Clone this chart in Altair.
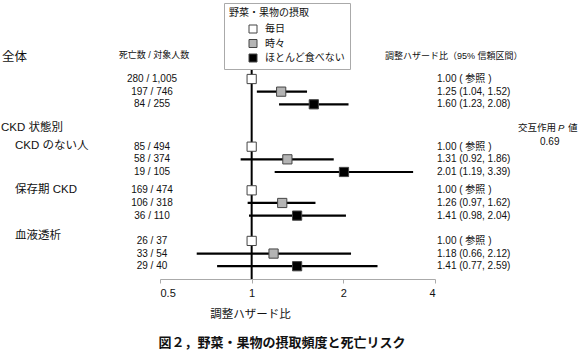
import altair as alt
import pandas as pd

# ---------------- data ----------------
groups = ["全体", "CKD のない人", "保存期 CKD", "血液透析"]
categories = ["毎日", "時々", "ほとんど食べない"]
deaths = [[280, 197, 84], [85, 58, 19], [169, 106, 36], [26, 33, 29]]
subjects = [[1005, 746, 255], [494, 374, 105], [474, 318, 110], [37, 54, 40]]
hazard = [[1.00, 1.25, 1.60], [1.00, 1.31, 2.01], [1.00, 1.26, 1.41], [1.00, 1.18, 1.41]]
ci_low = [[1.00, 1.04, 1.23], [1.00, 0.92, 1.19], [1.00, 0.97, 0.98], [1.00, 0.66, 0.77]]
ci_high = [[1.00, 1.52, 2.08], [1.00, 1.86, 3.39], [1.00, 1.62, 2.04], [1.00, 2.12, 2.59]]
p_interaction = "0.69"
tick_values = [0.5, 1, 2, 4]

# table layout (row units of the forest table)
GROUP_ROW_START = [0, 5.35, 8.8, 12.8]

FONT = "Liberation Sans, Arial, Noto Sans CJK JP, sans-serif"

rows = []
for gi, g in enumerate(groups):
    for j, c in enumerate(categories):
        h, lo, hi = hazard[gi][j], ci_low[gi][j], ci_high[gi][j]
        rows.append({
            "group": g,
            "cat": c,
            "row": GROUP_ROW_START[gi] + j,
            "count": f"{deaths[gi][j]} / {subjects[gi][j]:,}",
            "hr": h,
            "lo": lo,
            "hi": hi,
            "hrtext": "1.00 ( 参照 )" if j == 0 else f"{h:.2f} ({lo:.2f}, {hi:.2f})",
        })
df = pd.DataFrame(rows)
ci_df = df[df["lo"] != df["hi"]]

xscale = alt.Scale(type="log", domain=[0.5, 4], range=[160, 435], nice=False)
yscale = alt.Scale(domain=[0, 1], range=[79, 91.65], nice=False, zero=False)

X = alt.X("hr:Q", scale=xscale,
          axis=alt.Axis(values=tick_values, labelExpr="datum.value == 0.5 ? '0.5' : format(datum.value, 'd')",
                        grid=False, domainColor="#aaaaaa", tickColor="#aaaaaa", tickSize=4,
                        labelFontSize=11, labelPadding=4, labelColor="#111111", labelFont=FONT,
                        title="調整ハザード比", titleFont=FONT, titleFontSize=11.5, titleFontWeight="normal",
                        titleColor="#111111", titleX=250, titleY=35, titleBaseline="middle",
                        titleAnchor="middle", titleAlign="center"))
Y = alt.Y("row:Q", scale=yscale, axis=None)

base = alt.Chart(df)

ref_rule = alt.Chart(pd.DataFrame({"v": [1]})).mark_rule(color="black", strokeWidth=2).encode(
    x=alt.X("v:Q", scale=xscale), y=alt.value(67), y2=alt.value(279))

ci = alt.Chart(ci_df).mark_rule(color="black", strokeWidth=2.2).encode(
    x=alt.X("lo:Q", scale=xscale), x2="hi:Q", y=Y)

points = base.mark_square(size=85, stroke="#444444", strokeWidth=1, opacity=1).encode(
    x=X, y=Y,
    fill=alt.Fill("cat:N", scale=alt.Scale(domain=categories, range=["white", "#b4b4b4", "black"]),
                  legend=alt.Legend(title="野菜・果物の摂取", orient="none", legendX=224, legendY=3,
                                    padding=5, strokeColor="#aaaaaa", fillColor="white",
                                    titleFont=FONT, titleFontSize=10, titleFontWeight="normal",
                                    titleColor="#111111", titlePadding=6,
                                    labelFont=FONT, labelFontSize=10, labelColor="#111111",
                                    symbolType="square", symbolSize=64, symbolStrokeColor="#444444",
                                    symbolStrokeWidth=1, symbolOffset=19, labelOffset=7,
                                    rowPadding=2.5)))

counts = base.mark_text(font=FONT, fontSize=10, align="center", baseline="middle", color="#111111").encode(
    x=alt.value(152), y=Y, text="count:N")

hrtexts = base.mark_text(font=FONT, fontSize=10, align="left", baseline="middle", color="#111111").encode(
    x=alt.value(437), y=Y, text="hrtext:N")


def label(text, x, y, size, align="left", weight="normal", style="normal"):
    return alt.Chart(pd.DataFrame({"t": [text]})).mark_text(
        font=FONT, fontSize=size, align=align, baseline="middle", color="#111111",
        fontWeight=weight, fontStyle=style).encode(x=alt.value(x), y=alt.value(y), text="t:N")


labels = [
    label(groups[0], 2, 57, 12.5),
    label("CKD 状態別", 1, 128, 11.5),
    label(groups[1], 15, 146, 11.5),
    label(groups[2], 15, 190, 11.5),
    label(groups[3], 15, 236, 11.5),
    label("死亡数 / 対象人数", 154, 55, 9, align="center"),
    label("調整ハザード比（95% 信頼区間）", 385, 56, 9),
    label("交互作用", 518, 128, 9.5),
    label("P", 558, 128, 9.5, style="italic"),
    label("値", 568, 128, 9.5),
    label(p_interaction, 540, 142, 10),
    label("図２，野菜・果物の摂取頻度と死亡リスク", 282, 343, 13, align="center", weight="bold"),
]

chart = alt.layer(ref_rule, ci, points, counts, hrtexts, *labels).properties(
    width=579, height=279, autosize="none",
    padding={"left": 0, "top": 0, "right": 0, "bottom": 78},
    background="white",
).configure_view(stroke=None)

chart.save("out.html", embed_options={"renderer": "svg", "actions": False})
